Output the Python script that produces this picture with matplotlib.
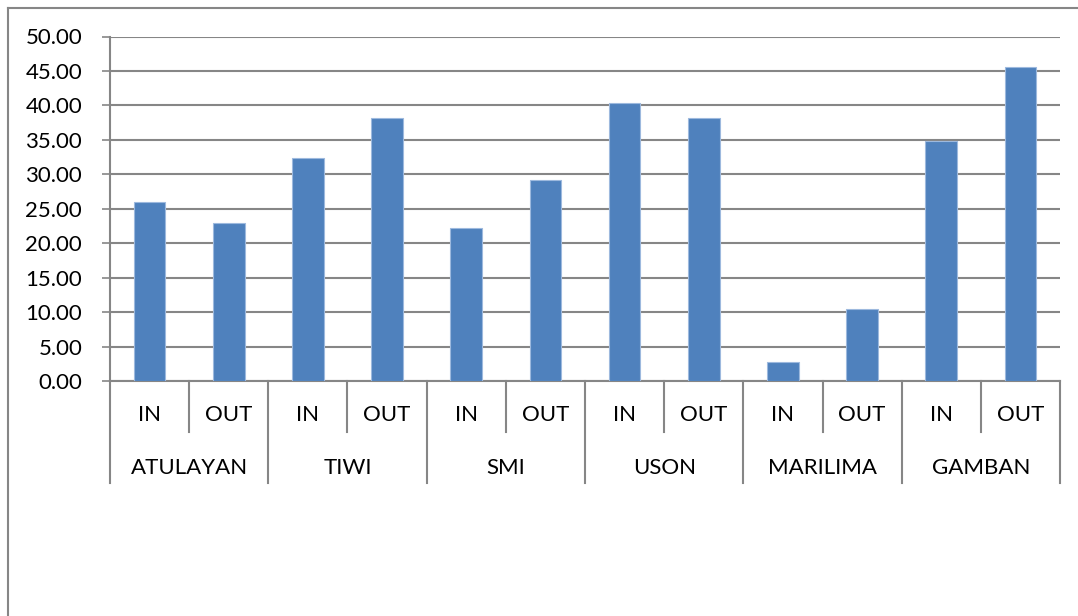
import numpy as np
import matplotlib.pyplot as plt
from matplotlib.lines import Line2D
import matplotlib.transforms as mtransforms

sites = ['ATULAYAN', 'TIWI', 'SMI', 'USON', 'MARILIMA', 'GAMBAN']
kinds = ['IN', 'OUT']
vals_in = [26.0, 32.4, 22.2, 40.4, 2.7, 34.9]
vals_out = [22.9, 38.1, 29.2, 38.2, 10.5, 45.6]

plt.rcParams['font.family'] = ['Lato', 'DejaVu Sans']
fs = 16

W, H = 1078, 616
fig = plt.figure(figsize=(W / 100, H / 100), dpi=100)
ax = fig.add_axes([110 / W, (H - 381) / H, 950 / W, 344.5 / H])

values = []
for a, b in zip(vals_in, vals_out):
    values += [a, b]
x = np.arange(len(values))

ax.bar(x, values, width=0.4, color='#4F81BD', edgecolor='#9DB9DE', linewidth=0.8, zorder=3)

ax.set_xlim(-0.5, len(values) - 0.5)
ax.set_ylim(0, 50)
ax.set_yticks(np.arange(0, 51, 5))
ax.set_yticklabels(['%.2f' % v for v in np.arange(0, 51, 5)])
ax.yaxis.grid(True, color='#868686', linewidth=1.5, zorder=0)
ax.tick_params(axis='y', length=6, width=1.2, color='#868686', labelsize=fs, pad=14)
ax.set_xticks([])
for s in ['top', 'right']:
    ax.spines[s].set_visible(False)
for s in ['left', 'bottom']:
    ax.spines[s].set_color('#868686')
    ax.spines[s].set_linewidth(1.5)

# two-level category axis
tr = mtransforms.blended_transform_factory(ax.transData, ax.transAxes)
row = 51 / 344.5
for i in range(len(values) + 1):
    low = -2 * row if i % 2 == 0 else -row
    ax.add_line(Line2D([i - 0.5, i - 0.5], [0, low], transform=tr, color='#868686',
                       linewidth=1.5, clip_on=False))
for i in range(len(values)):
    ax.text(i, -row * 0.66, kinds[i % 2], transform=tr, ha='center', va='center', fontsize=fs)
for j, name in enumerate(sites):
    ax.text(2 * j + 0.5, -row * 1.7, name, transform=tr, ha='center', va='center', fontsize=fs)

# chart frame (only left and top visible)
fig.add_artist(Line2D([7.5 / W, 7.5 / W], [0, 1 - 8 / H], transform=fig.transFigure,
                      color='#868686', linewidth=1.5))
fig.add_artist(Line2D([7.5 / W, 1], [1 - 8 / H, 1 - 8 / H], transform=fig.transFigure,
                      color='#868686', linewidth=1.5))

fig.savefig('out.png', dpi=100)
